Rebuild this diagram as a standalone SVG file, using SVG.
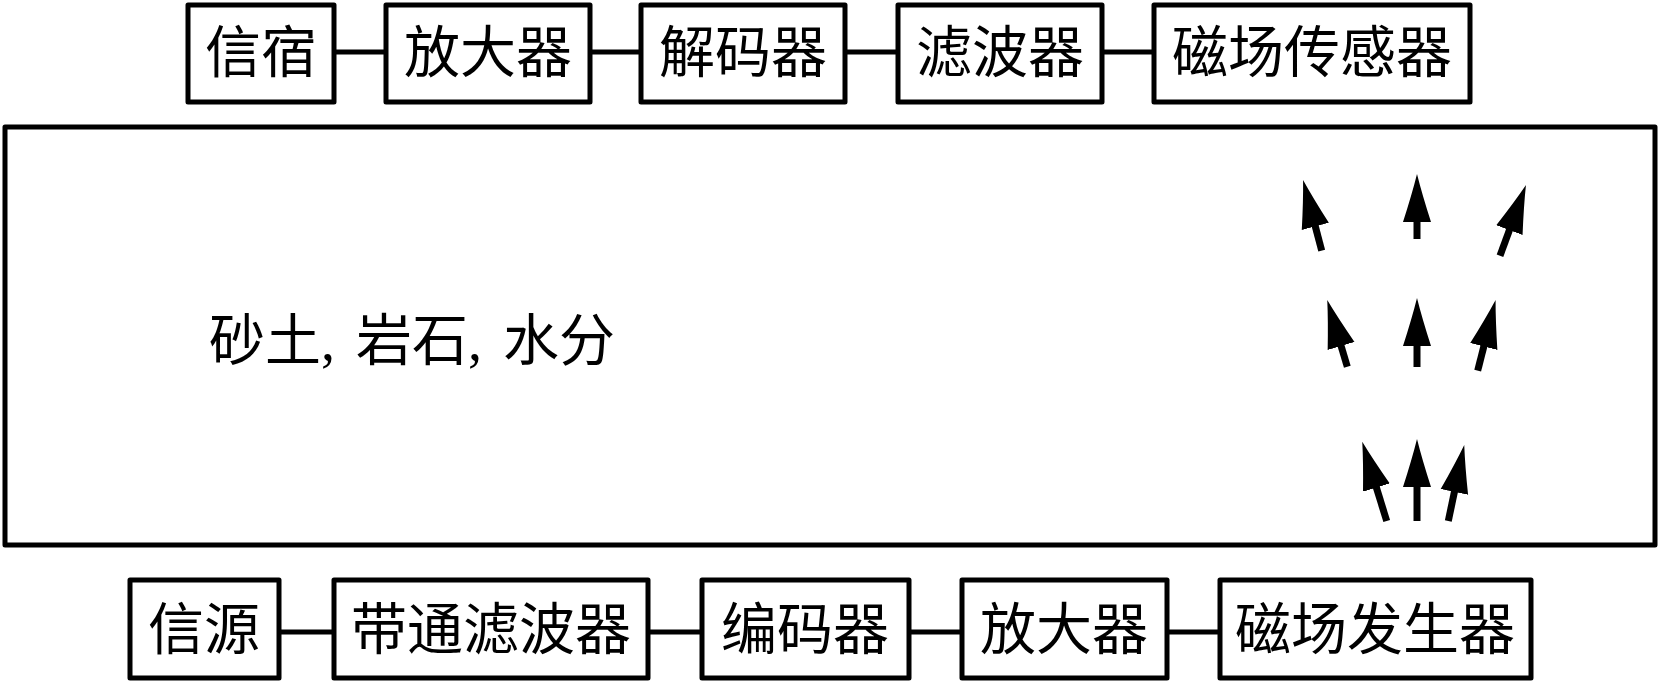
<svg xmlns="http://www.w3.org/2000/svg" width="1660" height="682" viewBox="0 0 1660 682">
<style>
.box{fill:#fff;stroke:#000;stroke-width:5;stroke-linejoin:round}
.lbl{font-family:"Liberation Serif","Noto Sans CJK SC",serif;font-size:56px;fill:#000;text-anchor:middle;dominant-baseline:central}
.conn{stroke:#000;stroke-width:5;fill:none}
.arr{stroke:#000;stroke-width:7;fill:none;marker-end:url(#ah)}
</style>
<defs>
<marker id="ah" markerUnits="userSpaceOnUse" markerWidth="60" markerHeight="40" viewBox="0 -20 60 40" refX="2" refY="0" orient="auto">
<path d="M48,0 Q28,-5 0,-14 L0,14 Q28,5 48,0 Z" fill="#000"/>
</marker>
</defs>
<rect x="0" y="0" width="1660" height="682" fill="#fff"/>
<g id="ground">
<rect class="box" x="5" y="127" width="1650" height="418"/>
<text class="lbl" x="209" y="341" style="text-anchor:start;word-spacing:7px">砂土, 岩石, 水分</text>
</g>
<g id="connectors">
<line class="conn" x1="334" y1="52" x2="386" y2="52"/>
<line class="conn" x1="590" y1="52" x2="641" y2="52"/>
<line class="conn" x1="845" y1="52" x2="898" y2="52"/>
<line class="conn" x1="1102" y1="52" x2="1154" y2="52"/>
<line class="conn" x1="279" y1="632" x2="334" y2="632"/>
<line class="conn" x1="648" y1="632" x2="702" y2="632"/>
<line class="conn" x1="909" y1="632" x2="962" y2="632"/>
<line class="conn" x1="1167" y1="632" x2="1220" y2="632"/>
</g>
<g id="sink"><rect class="box" x="188" y="5" width="146" height="97"/><text class="lbl" x="261" y="53">信宿</text></g>
<g id="amp-rx"><rect class="box" x="386" y="5" width="204" height="97"/><text class="lbl" x="488" y="53">放大器</text></g>
<g id="decoder"><rect class="box" x="641" y="5" width="204" height="97"/><text class="lbl" x="743" y="53">解码器</text></g>
<g id="filter-rx"><rect class="box" x="898" y="5" width="204" height="97"/><text class="lbl" x="1000" y="53">滤波器</text></g>
<g id="sensor"><rect class="box" x="1154" y="5" width="316" height="97"/><text class="lbl" x="1312" y="53">磁场传感器</text></g>
<g id="source"><rect class="box" x="130" y="580" width="149" height="98"/><text class="lbl" x="204" y="630">信源</text></g>
<g id="bandpass"><rect class="box" x="334" y="580" width="314" height="98"/><text class="lbl" x="491" y="630">带通滤波器</text></g>
<g id="encoder"><rect class="box" x="702" y="580" width="207" height="98"/><text class="lbl" x="805" y="630">编码器</text></g>
<g id="amp-tx"><rect class="box" x="962" y="580" width="205" height="98"/><text class="lbl" x="1064" y="630">放大器</text></g>
<g id="generator"><rect class="box" x="1220" y="580" width="311" height="98"/><text class="lbl" x="1375" y="630">磁场发生器</text></g>
<g id="field-arrows">
<line class="arr" x1="1321.7" y1="250.7" x2="1314.8" y2="224.5"/>
<line class="arr" x1="1417" y1="239" x2="1417" y2="220"/>
<line class="arr" x1="1500" y1="255.7" x2="1510.1" y2="228.2"/>
<line class="arr" x1="1347.3" y1="366.7" x2="1340.5" y2="344.1"/>
<line class="arr" x1="1417" y1="367" x2="1417" y2="344"/>
<line class="arr" x1="1477.7" y1="370.7" x2="1484.3" y2="344.6"/>
<line class="arr" x1="1386.7" y1="521" x2="1375.8" y2="485.6"/>
<line class="arr" x1="1417" y1="521" x2="1417" y2="485"/>
<line class="arr" x1="1448.3" y1="521" x2="1454.8" y2="490"/>
</g>
</svg>
